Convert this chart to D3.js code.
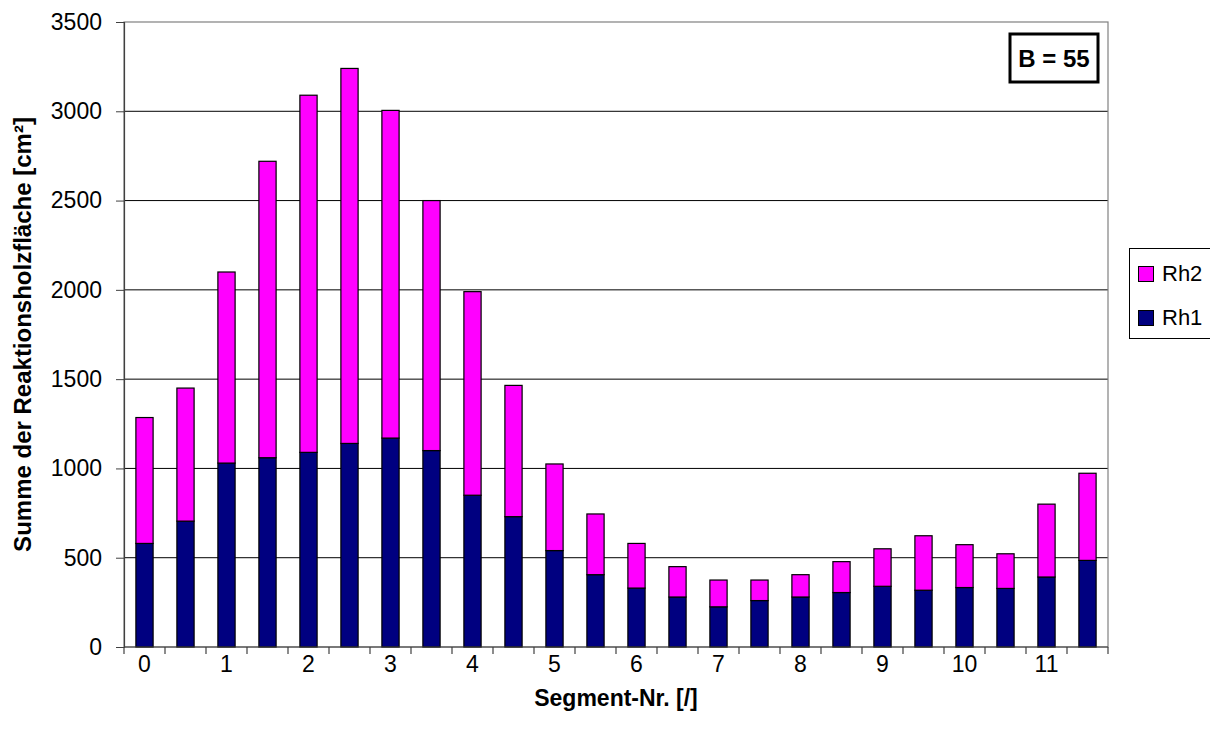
<!DOCTYPE html>
<html>
<head>
<meta charset="utf-8">
<script src="https://cdn.jsdelivr.net/npm/d3@7"></script>
<style>
  html, body { margin: 0; padding: 0; background: #fff; }
  svg { display: block; font-family: "Liberation Sans", Arial, sans-serif; }
</style>
</head>
<body>
<svg id="chart" width="1210" height="737"></svg>
<script>
// Segment positions (half-segment steps) and the stacked reaction-wood areas in cm²
const segments = ["0", "0.5", "1", "1.5", "2", "2.5", "3", "3.5", "4", "4.5", "5", "5.5",
                  "6", "6.5", "7", "7.5", "8", "8.5", "9", "9.5", "10", "10.5", "11", "11.5"];
const rh1 = [580, 705, 1030, 1060, 1090, 1140, 1170, 1100, 850, 730, 540, 405,
             330, 280, 225, 260, 280, 305, 340, 318, 333, 328, 392, 485];
const rh2 = [705, 745, 1070, 1660, 2000, 2100, 1835, 1400, 1140, 735, 485, 340,
             250, 170, 150, 115, 125, 173, 210, 305, 240, 194, 408, 488];
const yTicks = [0, 500, 1000, 1500, 2000, 2500, 3000, 3500];
const xTickLabels = ["0", "1", "2", "3", "4", "5", "6", "7", "8", "9", "10", "11"];
const seriesNames = ["Rh1", "Rh2"];
const seriesColors = { Rh1: "#000080", Rh2: "#FF00FF" };
const infoText = "B = 55";

const svg = d3.select("#chart");
const plot = { left: 124, right: 1108, top: 22, bottom: 647 };

const x = d3.scaleBand()
  .domain(segments)
  .range([plot.left, plot.right])
  .paddingInner(0.58)
  .paddingOuter(0.29);

const y = d3.scaleLinear()
  .domain([0, 3500])
  .range([plot.bottom, plot.top]);

// Horizontal gridlines
svg.append("g")
  .selectAll("line")
  .data(yTicks.filter(t => t > 0 && t < 3500))
  .join("line")
  .attr("x1", plot.left).attr("x2", plot.right)
  .attr("y1", d => y(d)).attr("y2", d => y(d))
  .attr("stroke", "#000").attr("stroke-width", 1);

// Plot area frame
svg.append("rect")
  .attr("x", plot.left).attr("y", plot.top)
  .attr("width", plot.right - plot.left).attr("height", plot.bottom - plot.top)
  .attr("fill", "none").attr("stroke", "#808080").attr("stroke-width", 1.2);

// Stacked bars
const rows = segments.map((s, i) => ({ seg: s, Rh1: rh1[i], Rh2: rh2[i] }));
const stack = d3.stack().keys(seriesNames)(rows);

svg.append("g")
  .selectAll("g")
  .data(stack)
  .join("g")
  .attr("fill", d => seriesColors[d.key])
  .selectAll("rect")
  .data(d => d)
  .join("rect")
  .attr("x", d => x(d.data.seg))
  .attr("width", x.bandwidth())
  .attr("y", d => y(d[1]))
  .attr("height", d => y(d[0]) - y(d[1]))
  .attr("stroke", "#000")
  .attr("stroke-width", 1.2);

// Y axis
const yAxis = svg.append("g")
  .attr("transform", `translate(${plot.left},0)`)
  .call(d3.axisLeft(y).tickValues(yTicks).tickSize(8).tickPadding(14).tickFormat(d3.format("d")));
yAxis.select(".domain").attr("stroke", "#404040").attr("stroke-width", 1.2);
yAxis.selectAll(".tick line").attr("stroke", "#404040");
yAxis.selectAll(".tick text")
  .attr("font-size", 23).attr("fill", "#000")
  .attr("font-family", "'Liberation Sans', Arial, sans-serif");

// X axis: ticks on every segment boundary, labels on whole segments
const xAxisG = svg.append("g").attr("transform", `translate(0,${plot.bottom})`);
xAxisG.append("line")
  .attr("x1", plot.left).attr("x2", plot.right)
  .attr("y1", 0).attr("y2", 0)
  .attr("stroke", "#404040").attr("stroke-width", 1.2);
const step = x.step();
const boundaries = segments.map(s => x(s) + x.bandwidth() / 2 - step / 2);
boundaries.push(plot.right);
xAxisG.selectAll("line.tick")
  .data(boundaries)
  .join("line")
  .attr("class", "tick")
  .attr("x1", d => d).attr("x2", d => d)
  .attr("y1", 0).attr("y2", 7)
  .attr("stroke", "#404040").attr("stroke-width", 1.2);
xAxisG.selectAll("text")
  .data(xTickLabels)
  .join("text")
  .attr("x", (d, i) => x(segments[i * 2]) + x.bandwidth() / 2)
  .attr("y", 25)
  .attr("text-anchor", "middle")
  .attr("font-size", 23)
  .text(d => d);

// Axis titles
svg.append("text")
  .attr("x", (plot.left + plot.right) / 2)
  .attr("y", 706)
  .attr("text-anchor", "middle")
  .attr("font-size", 23).attr("font-weight", "bold")
  .text("Segment-Nr. [/]");

svg.append("text")
  .attr("transform", `translate(31,${(plot.top + plot.bottom) / 2}) rotate(-90)`)
  .attr("text-anchor", "middle")
  .attr("font-size", 24).attr("font-weight", "bold")
  .text("Summe der Reaktionsholzfläche [cm²]");

// Info box
const info = svg.append("g");
info.append("rect")
  .attr("x", 1010).attr("y", 34).attr("width", 88).attr("height", 48)
  .attr("fill", "#fff").attr("stroke", "#000").attr("stroke-width", 3);
info.append("text")
  .attr("x", 1054).attr("y", 67)
  .attr("text-anchor", "middle")
  .attr("font-size", 24).attr("font-weight", "bold")
  .text(infoText);

// Legend (Rh2 listed above Rh1, as stacked)
const legend = svg.append("g");
legend.append("rect")
  .attr("x", 1129.5).attr("y", 248.5).attr("width", 90).attr("height", 90)
  .attr("fill", "#fff").attr("stroke", "#000").attr("stroke-width", 1);
const legendItems = seriesNames.slice().reverse();
legend.selectAll("g.item")
  .data(legendItems)
  .join("g")
  .attr("class", "item")
  .attr("transform", (d, i) => `translate(1138,${266 + i * 44})`)
  .each(function (d) {
    const g = d3.select(this);
    g.append("rect")
      .attr("x", 0.5).attr("y", 0.5).attr("width", 15).attr("height", 15)
      .attr("fill", seriesColors[d]).attr("stroke", "#000").attr("stroke-width", 1);
    g.append("text")
      .attr("x", 24).attr("y", 15)
      .attr("font-size", 22)
      .text(d);
  });
</script>
</body>
</html>
